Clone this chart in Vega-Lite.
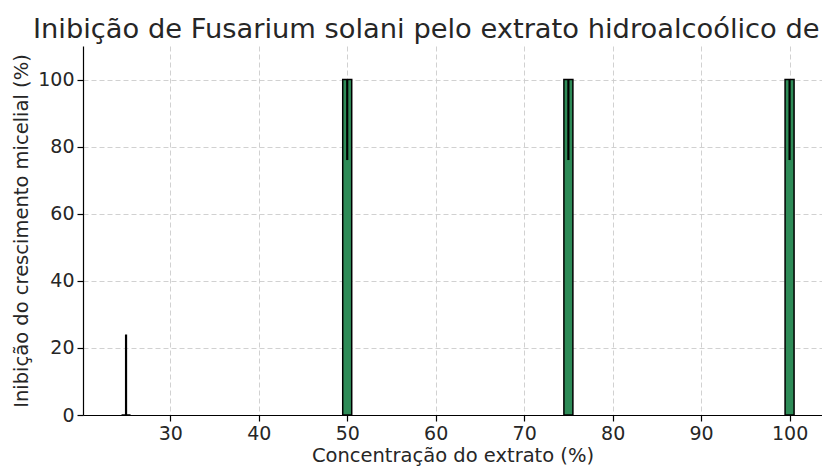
{
  "$schema": "https://vega.github.io/schema/vega-lite/v6.json",
  "autosize": "none",
  "width": 739,
  "height": 369,
  "padding": {"left": 83, "top": 46, "right": 0, "bottom": 53},
  "background": "white",
  "config": {
    "view": {"stroke": null},
    "font": "DejaVu Sans",
    "axis": {
      "labelFont": "DejaVu Sans",
      "titleFont": "DejaVu Sans",
      "labelFontSize": 19,
      "titleFontSize": 19.5,
      "titleFontWeight": "normal",
      "labelColor": "#262626",
      "titleColor": "#262626",
      "domainColor": "#000000",
      "domainWidth": 1.2,
      "tickColor": "#000000",
      "tickSize": 6,
      "tickWidth": 1.2,
      "gridColor": "#cccccc",
      "gridDash": [5, 3],
      "gridWidth": 0.9
    }
  },
  "title": {
    "text": "Inibição de Fusarium solani pelo extrato hidroalcoólico de",
    "anchor": "start",
    "frame": "group",
    "dx": -50,
    "offset": 3,
    "font": "DejaVu Sans",
    "fontSize": 27.3,
    "fontWeight": "normal",
    "color": "#262626"
  },
  "data": {
    "values": [
      {"conc": 25, "inib": 0, "lo": 0, "hi": 24},
      {"conc": 50, "inib": 100, "lo": 76, "hi": 100},
      {"conc": 75, "inib": 100, "lo": 76, "hi": 100},
      {"conc": 100, "inib": 100, "lo": 76, "hi": 100}
    ]
  },
  "layer": [
    {
      "mark": {"type": "bar", "size": 9, "color": "#2e8b57", "stroke": "#000000", "strokeWidth": 1.5, "clip": true},
      "encoding": {
        "x": {
          "field": "conc",
          "type": "quantitative",
          "scale": {"domain": [20.7, 103.1], "nice": false, "zero": false},
          "axis": {
            "values": [30, 40, 50, 60, 70, 80, 90, 100],
            "title": "Concentração do extrato (%)",
            "labelPadding": 3,
            "titlePadding": 3,
            "grid": true
          }
        },
        "y": {
          "field": "inib",
          "type": "quantitative",
          "scale": {"domain": [0, 110], "nice": false},
          "axis": {
            "values": [0, 20, 40, 60, 80, 100],
            "title": "Inibição do crescimento micelial (%)",
            "labelPadding": 3,
            "titlePadding": 6,
            "grid": true
          }
        }
      }
    },
    {
      "mark": {"type": "rule", "color": "#000000", "strokeWidth": 2.2, "clip": true},
      "encoding": {
        "x": {"field": "conc", "type": "quantitative"},
        "y": {"field": "lo", "type": "quantitative"},
        "y2": {"field": "hi"}
      }
    }
  ]
}
